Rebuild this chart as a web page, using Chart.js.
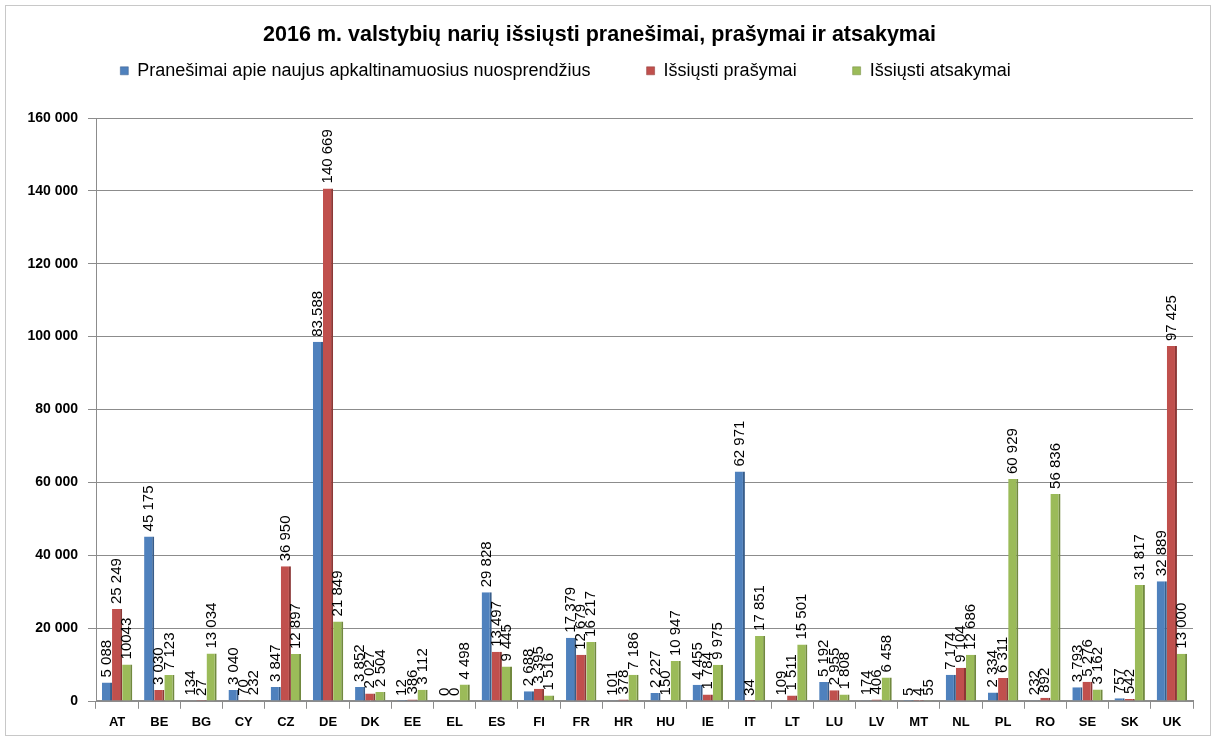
<!DOCTYPE html>
<html>
<head>
<meta charset="utf-8">
<script src="https://cdn.jsdelivr.net/npm/chart.js@4/dist/chart.umd.min.js"></script>
<style>
  html, body { margin: 0; padding: 0; background: #fff; }
  #wrap { position: absolute; left: 5px; top: 5px; width: 1204px; height: 729px; border: 1px solid #c8c8c8; }
  canvas { display: block; }
</style>
</head>
<body>
<div id="wrap"><canvas id="chart" width="1204" height="729"></canvas></div>
<script>
// Šalys
const salys = ['AT', 'BE', 'BG', 'CY', 'CZ', 'DE', 'DK', 'EE', 'EL', 'ES', 'FI', 'FR', 'HR', 'HU', 'IE', 'IT', 'LT', 'LU', 'LV', 'MT', 'NL', 'PL', 'RO', 'SE', 'SK', 'UK'];

// Pranešimai apie naujus apkaltinamuosius nuosprendžius
const pranesimai = [5088, 45175, 134, 3040, 3847, 98588, 3852, 12, 0, 29828, 2688, 17379, 101, 2227, 4455, 62971, 109, 5192, 174, 5, 7174, 2334, 232, 3793, 757, 32889];
// Išsiųsti prašymai
const prasymai = [25249, 3030, 27, 70, 36950, 140669, 2027, 386, 0, 13497, 3395, 12679, 378, 150, 1784, 34, 1511, 2955, 406, 4, 9104, 6311, 892, 5276, 542, 97425];
// Išsiųsti atsakymai
const atsakymai = [10043, 7123, 13034, 232, 12897, 21849, 2504, 3112, 4498, 9445, 1516, 16217, 7186, 10947, 9975, 17851, 15501, 1808, 6458, 55, 12686, 60929, 56836, 3162, 31817, 13000];

// etikečių tekstai, kurie paveiksle parašyti kitaip
const etiketes = { '0,5': '83.588', '2,0': '10043' };

const fmt = v => String(v).replace(/\B(?=(\d{3})+(?!\d))/g, ' ');
const sriftas = "'Liberation Sans', Arial, sans-serif";

// Skaičiai virš stulpelių (pasukti 90°)
const reiksmes = {
  id: 'reiksmes',
  afterDatasetsDraw(chart) {
    const ctx = chart.ctx;
    ctx.save();
    ctx.font = '15px ' + sriftas;
    ctx.fillStyle = '#000';
    ctx.textAlign = 'left';
    ctx.textBaseline = 'middle';
    chart.data.datasets.forEach((ds, i) => {
      chart.getDatasetMeta(i).data.forEach((bar, j) => {
        const txt = etiketes[i + ',' + j] || fmt(ds.data[j]);
        ctx.save();
        ctx.translate(bar.x, bar.y - 5);
        ctx.rotate(-Math.PI / 2);
        ctx.fillText(txt, 0, 0);
        ctx.restore();
      });
    });
    ctx.restore();
  }
};

// Tarpas po legenda, legenda kiek kairiau
const legendosTarpas = {
  id: 'legendosTarpas',
  beforeInit(chart) {
    const fit = chart.legend.fit;
    chart.legend.fit = function () {
      fit.bind(chart.legend)();
      this.height += 28;
    };
  },
  afterLayout(chart) {
    chart.legend.left -= 34;
    chart.legend.right -= 34;
  }
};

const serija = (label, data, color, side) => ({
  label: label,
  data: data,
  backgroundColor: color,
  borderColor: side,
  borderWidth: { top: 0, left: 0, bottom: 0, right: 2 },
  borderSkipped: false,
  categoryPercentage: 0.72,
  barPercentage: 1.0
});

const ctx = document.getElementById('chart').getContext('2d');
const chart = new Chart(ctx, {
  type: 'bar',
  data: {
    labels: salys,
    datasets: [
      serija('Pranešimai apie naujus apkaltinamuosius nuosprendžius', pranesimai, '#4F81BD', '#385D8A'),
      serija('Išsiųsti prašymai', prasymai, '#C0504D', '#8C3836'),
      serija('Išsiųsti atsakymai', atsakymai, '#9BBB59', '#71893F'),
    ],
  },
  options: {
    responsive: false,
    animation: false,
    layout: { padding: { top: 0, right: 17, bottom: 0, left: 0 } },
    plugins: {
      title: {
        display: true,
        text: '2016 m. valstybių narių išsiųsti pranešimai, prašymai ir atsakymai',
        color: '#000',
        font: { family: sriftas, size: 21.5, weight: 'bold' },
        padding: { top: 16, bottom: -42 },
      },
      legend: {
        position: 'top',
        labels: {
          color: '#000',
          font: { family: sriftas, size: 18 },
          boxWidth: 8,
          boxHeight: 8,
          padding: 56,
        },
      },
      tooltip: { enabled: false },
    },
    scales: {
      x: {
        grid: { display: true, offset: true, drawOnChartArea: false, drawTicks: true, tickLength: 8, color: '#8c8c8c' },
        border: { color: '#8c8c8c' },
        ticks: { color: '#000', font: { family: sriftas, size: 13, weight: 'bold' }, padding: 6, maxRotation: 0 },
        afterFit: s => { s.height = 34; },
      },
      y: {
        min: 0,
        max: 160000,
        grid: { color: '#8c8c8c', tickLength: 8 },
        border: { color: '#8c8c8c' },
        ticks: {
          stepSize: 20000,
          color: '#000',
          padding: 10,
          font: { family: sriftas, size: 14, weight: 'bold' },
          callback: v => fmt(v),
        },
        afterFit: s => { s.width = 90; },
      },
    },
  },
  plugins: [reiksmes, legendosTarpas],
});
</script>
</body>
</html>
